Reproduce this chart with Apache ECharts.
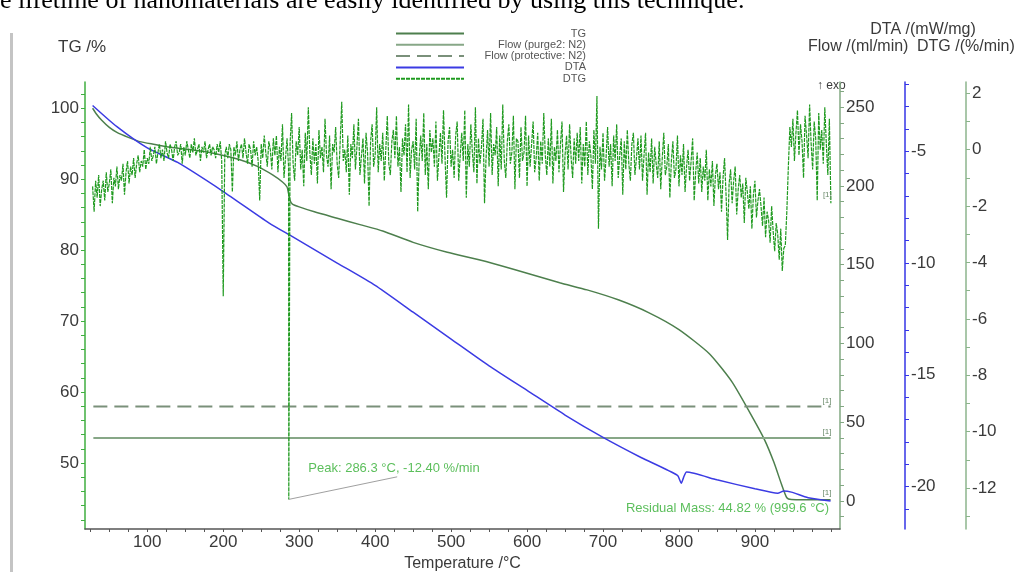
<!DOCTYPE html>
<html>
<head>
<meta charset="utf-8">
<title>TG / DTA</title>
<script src="https://cdn.jsdelivr.net/npm/echarts@6/dist/echarts.min.js"></script>
<style>
  html, body { margin: 0; padding: 0; background: #fff; }
  #main { width: 1026px; height: 572px; }
</style>
</head>
<body>
<div id="main"></div>
<script type="text/javascript">
// temperature (°C), TG (%)
var tgCurve = [
  [28, 100], [33, 99.2], [40, 98.3], [50, 97.3], [60, 96.6], [75, 95.9], [90, 95.3],
  [110, 94.9], [130, 94.5], [160, 94.1], [190, 93.6], [220, 92.8], [245, 91.8],
  [265, 90.6], [278, 89.6], [284, 88.9], [286, 88.0], [288, 87.0], [291, 86.5],
  [300, 86.1], [320, 85.4], [350, 84.5], [380, 83.6], [410, 82.7], [450, 81.1],
  [495, 79.7], [538, 78.6], [582, 77.3], [643, 75.4], [679, 74.4], [720, 73.0],
  [760, 71.2], [800, 68.8], [840, 65.4], [870, 61.4], [897, 56.4], [913, 53.2],
  [925, 50.1], [935, 47.0], [942, 45.1], [948, 44.86], [970, 44.83], [999.6, 44.82]
];
// temperature (°C), DTA (mW/mg)
var dtaCurve = [
  [28, -2.95], [60, -3.9], [100, -4.85], [140, -5.5], [200, -6.8], [260, -8.2],
  [290, -8.8], [350, -10.0], [400, -11.0], [450, -12.2], [500, -13.4], [550, -14.6],
  [600, -15.7], [650, -16.8], [700, -17.8], [750, -18.7], [798, -19.5], [803, -19.85],
  [806, -19.6], [810, -19.35], [850, -19.7], [900, -20.1], [930, -20.3], [938, -20.2],
  [948, -20.25], [970, -20.5], [999.6, -20.65]
];
// DTG (%/min), one reading every 2 °C from 28 °C
var dtgStart = 28;
var dtgStep = 2;
var dtgValues = [
  -1.3, -2.2, -1.1, -1.7, -0.9, -2.0, -1.4, -1.1, -1.8, -0.8, -1.5, -1.2, -0.7, -1.9, -1.0, -1.3, -0.6, -1.4, -0.9, -1.1,
  -0.5, -1.6, -0.8, -0.4, -1.2, -0.6, -0.9, -0.3, -1.0, -0.5, -0.2, -0.8, -0.4, -0.6, 0.0, -0.7, -0.3, -0.5, 0.1, -0.4,
  -0.2, 0.1, -0.5, -0.1, 0.2, -0.3, 0.0, -0.4, 0.3, -0.1, -0.3, 0.2, 0.0, -0.4, 0.1, 0.3, -0.2, -0.1, 0.2, -0.5,
  0.1, -0.2, 0.3, 0.0, -0.3, 0.2, -0.1, 0.4, -0.2, 0.0, 0.2, -0.4, 0.1, -0.1, 0.3, -0.3, 0.0, 0.2, -0.2, 0.1,
  0.0, -0.3, 0.2, -0.1, 0.3, -0.4, -5.2, -0.2, 0.1, -0.3, 0.2, 0.0, -1.5, 0.1, -0.2, 0.3, -0.4, 0.0, 0.2, -0.3,
  0.4, -0.1, -0.5, 0.2, 0.0, -0.6, 0.3, -0.2, 0.1, -0.4, -1.8, 0.2, -0.3, 0.5, -0.1, -0.6, 0.3, 0.0, -0.7, 0.4,
  -0.2, 0.5, -0.8, 0.1, -0.4, 0.9, -1.0, -0.3, 0.4, -0.6, 0.2, 1.3, -0.5, -1.1, 0.3, -0.2, 0.8, -0.7, 0.0, -1.3,
  0.6, -0.4, 1.5, -0.1, -0.9, 0.4, -0.5, 0.2, -1.2, 0.7, -0.3, 0.1, -0.8, 1.1, -0.2, -0.6, 0.5, -1.4, 0.2, -0.1,
  0.8, -0.5, -1.0, 0.3, 1.7, -0.4, 0.0, -0.8, 0.5, -1.6, 0.2, -0.3, 0.9, -0.7, 0.1, 1.1, -0.9, -0.2, 0.4, -1.2,
  0.6, -0.1, -2.0, 0.3, 0.9, -0.6, -0.2, 1.5, -0.8, 0.2, -0.4, 0.6, -1.1, 0.0, 1.2, -0.5, -0.9, 0.3, 0.7, -0.3,
  1.2, -0.6, 0.1, -1.5, 0.4, -0.2, 0.9, -0.8, 1.6, -1.0, 0.0, 0.3, -0.7, 1.1, -2.2, -0.3, 0.5, -0.4, 1.3, -0.9,
  0.2, -1.4, 0.7, -0.1, 0.4, -0.6, 1.0, -1.1, -0.2, 0.6, -0.5, 1.4, -0.3, -1.7, 0.3, 0.8, -0.6, 0.0, -1.0, 0.5,
  1.0, -1.1, -0.2, 0.6, -0.4, 1.4, -1.7, 0.2, -0.6, 0.9, -0.1, -0.8, 1.5, -1.2, 0.4, -0.5, 0.1, 1.1, -1.9, -0.3,
  0.7, -0.6, 1.3, -0.9, 0.2, -0.2, 0.8, -1.3, 0.5, -0.7, 1.6, -0.4, -1.0, 0.3, 0.9, -0.5, -0.1, 1.2, -1.4, 0.4,
  0.3, -1.0, 0.8, -0.4, -0.1, 1.2, -1.3, 0.5, -0.6, 0.2, 1.0, -0.8, -0.3, 0.6, -1.1, 0.3, -0.5, 1.3, -0.2, -0.9,
  0.4, -0.6, 1.1, -1.2, 0.1, -0.4, 0.7, -0.8, 0.2, 1.0, -1.5, -0.2, 0.5, -0.7, 0.9, -0.3, -1.0, 0.4, -0.5, 0.6,
  -0.4, 0.8, -1.2, 0.2, -0.6, 1.0, -0.9, 0.3, -0.2, -1.4, 0.7, -0.5, 1.9, -2.8, 0.1, -0.7, 0.6, -1.1, -0.3, 0.8,
  -0.6, 0.2, -1.3, 0.5, -0.4, 0.9, -1.0, -0.2, 0.4, -1.6, 0.3, -0.7, 0.7, -0.5, -1.1, 0.2, 0.6, -0.9, -0.3, 0.4,
  -0.7, 0.5, -1.1, -0.2, 0.6, -1.6, -0.1, -0.8, 0.4, -1.2, 0.1, -0.5, -1.0, 0.3, -1.4, -0.3, 0.6, -0.9, -0.6, 0.2,
  -1.7, -0.4, 0.3, -1.0, -0.7, 0.5, -1.3, -0.2, -0.9, 0.2, -1.5, -0.6, 0.0, -1.1, -0.4, 0.4, -1.8, -0.8, -0.1, -1.2,
  -0.3, -1.5, -0.6, -1.1, 0.0, -1.8, -0.7, -1.3, -0.4, -2.0, -0.9, -0.5, -1.4, -0.8, -2.2, -1.0, -0.3, -1.6, -3.2, -1.2,
  -0.7, -1.9, -1.1, -0.6, -2.3, -1.4, -0.9, -1.7, -1.2, -2.6, -1.0, -1.5, -2.1, -1.3, -2.8, -1.6, -1.1, -2.4, -1.8, -1.4,
  -2.0, -2.7, -1.7, -3.1, -2.2, -2.5, -3.3, -2.0, -2.9, -3.6, -2.6, -3.0, -3.9, -2.8, -4.3, -3.5, -3.4, -2.2, -0.6, 0.8,
  0.1, 1.1, -0.4, 0.6, 1.4, -0.2, 0.9, 0.3, -1.0, 1.2, 0.5, -0.3, 1.6, 0.2, -0.7, 1.0, 0.4, -1.8, 1.3, 0.0,
  0.7, -0.5, 1.5, 0.2, -0.9, 1.1, -1.9
];
var dtgPeak = [286.3, -12.40];
// flow (ml/min)
var flowPurge = [[29, 40], [999.6, 40]];
var flowProtective = [[29, 60], [999.6, 60]];
var residual = [999.6, 44.82];

var seriesNames = ['TG', 'Flow (purge2: N2)', 'Flow (protective: N2)', 'DTA', 'DTG'];
var tempLabels = [100, 200, 300, 400, 500, 600, 700, 800, 900];
var tgLabels = [50, 60, 70, 80, 90, 100];
var flowLabels = [0, 50, 100, 150, 200, 250];
var dtaLabels = [-20, -15, -10, -5];
var dtgLabels = [-12, -10, -8, -6, -4, -2, 0, 2];

function steps(a, b, s) {
  var out = [];
  for (var v = a; v <= b + 1e-9; v += s) out.push(Math.round(v * 100) / 100);
  return out;
}

var dtgData = [];
for (var i = 0; i < dtgValues.length; i++) {
  dtgData.push([dtgStart + i * dtgStep, dtgValues[i]]);
}
dtgData.push(dtgPeak);
dtgData.sort(function (a, b) { return a[0] - b[0]; });

var labelFont = '"Liberation Sans", Arial, sans-serif';
var tickSize = 17;

function yAxisOf(pos, offset, min, max, color, ticks, labels) {
  return {
    type: 'value', position: pos, offset: offset, min: min, max: max,
    splitLine: { show: false },
    axisLine: { show: true, onZero: false, lineStyle: { color: color, width: 1.5 } },
    axisTick: { show: true, length: 4, customValues: ticks, lineStyle: { color: color } },
    axisLabel: { customValues: labels, color: '#3a3a3a', fontSize: tickSize, fontFamily: labelFont, margin: 6 }
  };
}

var myChart = echarts.init(document.getElementById('main'));
var option = {
  backgroundColor: '#fff',
  animation: false,
  grid: { left: 85, right: 186, top: 82, bottom: 43, containLabel: false, outerBoundsMode: 'none' },
  legend: {
    orient: 'vertical', left: 390, top: 23,
    itemWidth: 68, itemHeight: 11, itemGap: 0.3,
    data: seriesNames,
    itemStyle: { opacity: 0 },
    formatter: function (name) { return '{r|' + name + '}'; },
    textStyle: {
      fontSize: 11, color: '#555', fontFamily: labelFont,
      rich: { r: { width: 117, align: 'right', fontSize: 11, color: '#555', fontFamily: labelFont } }
    }
  },
  xAxis: {
    type: 'value', min: 18, max: 1012,
    splitLine: { show: false },
    axisLine: { onZero: false, lineStyle: { color: '#555', width: 1.5 } },
    axisTick: { length: 3, customValues: steps(25, 1000, 25), lineStyle: { color: '#555' } },
    axisLabel: { customValues: tempLabels, color: '#3a3a3a', fontSize: tickSize, fontFamily: labelFont, margin: 5 },
    name: 'Temperature /°C', nameLocation: 'middle', nameGap: 23,
    nameTextStyle: { color: '#3a3a3a', fontSize: 16, fontFamily: labelFont }
  },
  yAxis: [
    yAxisOf('left', 0, 40.7, 103.7, '#3fae3f', steps(42, 102, 2), tgLabels),
    yAxisOf('right', 0, -17.8, 266, '#82a882', steps(-10, 260, 10), flowLabels),
    yAxisOf('right', 65, -21.9, -1.9, '#3535e6', steps(-21, -2, 1), dtaLabels),
    yAxisOf('right', 126, -13.45, 2.4, '#8cb48c', steps(-13, 2, 1), dtgLabels)
  ],
  series: [
    {
      name: seriesNames[0], type: 'line', yAxisIndex: 0, data: tgCurve,
      showSymbol: false, symbol: 'none', smooth: 0.2,
      lineStyle: { color: '#4d7f4d', width: 1.5 }, itemStyle: { color: '#4d7f4d' },
      endLabel: { show: true, formatter: '[1]', fontSize: 8, color: '#6a8a6a', offset: [-16, -7] },
      markPoint: {
        symbol: 'circle', symbolSize: 0, silent: true,
        data: [{ coord: [residual[0] - 2, residual[1] - 1.2] }],
        label: {
          show: true, position: 'left', distance: 0,
          formatter: 'Residual Mass: ' + residual[1] + ' % (' + residual[0] + ' °C)',
          color: '#5cbf5c', fontSize: 13, fontFamily: labelFont
        }
      }
    },
    {
      name: seriesNames[1], type: 'line', yAxisIndex: 1, data: flowPurge,
      showSymbol: false, symbol: 'none',
      lineStyle: { color: '#87a787', width: 2 }, itemStyle: { color: '#87a787' },
      endLabel: { show: true, formatter: '[1]', fontSize: 8, color: '#6a8a6a', offset: [-16, -6] }
    },
    {
      name: seriesNames[2], type: 'line', yAxisIndex: 1, data: flowProtective,
      showSymbol: false, symbol: 'none',
      lineStyle: { color: '#7a907a', width: 2, type: [14, 7] }, itemStyle: { color: '#7a907a' },
      endLabel: { show: true, formatter: '[1]', fontSize: 8, color: '#6a8a6a', offset: [-16, -6] }
    },
    {
      name: seriesNames[3], type: 'line', yAxisIndex: 2, data: dtaCurve,
      showSymbol: false, symbol: 'none', smooth: 0.2,
      lineStyle: { color: '#3b3be3', width: 1.5 }, itemStyle: { color: '#3b3be3' }
    },
    {
      name: seriesNames[4], type: 'line', yAxisIndex: 3, data: dtgData,
      showSymbol: false, symbol: 'none',
      lineStyle: { color: '#1f9a1f', width: 1.2, type: [4, 1] }, itemStyle: { color: '#1f9a1f' },
      endLabel: { show: true, formatter: '[1]', fontSize: 8, color: '#6a8a6a', offset: [-16, -8] },
      markLine: {
        silent: true, symbol: 'none',
        lineStyle: { color: '#a0a0a0', width: 1, type: 'solid' },
        label: { show: false },
        data: [[{ coord: dtgPeak }, { coord: [429, -11.6] }]]
      },
      markPoint: {
        symbol: 'circle', symbolSize: 0, silent: true,
        data: [{ coord: [312, -11.3] }],
        label: {
          show: true, position: 'right', distance: 0,
          formatter: 'Peak: ' + dtgPeak[0] + ' °C, ' + dtgPeak[1].toFixed(2) + ' %/min',
          color: '#5cbf5c', fontSize: 13, fontFamily: labelFont
        }
      }
    }
  ],
  graphic: [
    { type: 'text', left: 0, top: -12, style: { text: 'e lifetime of nanomaterials are easily identified by using this technique.', font: '26px "Liberation Serif", "Times New Roman", serif', fill: '#000' } },
    { type: 'rect', shape: { x: 10, y: 33, width: 3, height: 540 }, style: { fill: '#c4c4c4' } },
    { type: 'text', left: 58, top: 39, style: { text: 'TG /%', font: '17px ' + labelFont, fill: '#3a3a3a' } },
    { type: 'text', x: 923, y: 30, style: { text: 'DTA /(mW/mg)', font: '16px ' + labelFont, fill: '#3a3a3a', align: 'center', verticalAlign: 'middle' } },
    { type: 'text', x: 808, y: 47, style: { text: 'Flow /(ml/min)', font: '16px ' + labelFont, fill: '#3a3a3a', verticalAlign: 'middle' } },
    { type: 'text', x: 917, y: 47, style: { text: 'DTG /(%/min)', font: '16px ' + labelFont, fill: '#3a3a3a', verticalAlign: 'middle' } },
    { type: 'text', left: 817, top: 80, style: { text: '↑ exo', font: '12px ' + labelFont, fill: '#3a3a3a' } }
  ]
};
myChart.setOption(option);
</script>
</body>
</html>
